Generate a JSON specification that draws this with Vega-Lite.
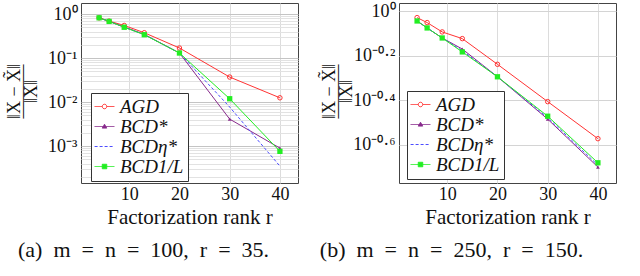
{
  "$schema": "https://vega.github.io/schema/vega-lite/v6.json",
  "padding": {"left": 4, "top": 1, "right": 0, "bottom": 0},
  "background": "white",
  "bounds": "flush",
  "spacing": 101,
  "config": {
    "view": {"stroke": "#444", "strokeWidth": 1},
    "axis": {"labelFont": "Liberation Serif", "labelFontSize": 18, "labelColor": "#111", "titleFont": "Liberation Serif", "titleFontWeight": "normal", "titleColor": "#111", "ticks": false, "domain": false, "labelOverlap": false, "labelBound": false},
    "title": {"font": "Liberation Serif", "fontSize": 22, "fontWeight": "normal", "color": "#111"},
    "legend": {"orient": "none", "title": null, "symbolSize": 324, "symbolStrokeWidth": 1, "labelFont": "Liberation Serif", "labelFontSize": 19, "labelFontStyle": "italic", "labelColor": "#111", "strokeColor": "#333", "fillColor": "white", "padding": 4, "rowPadding": 0, "labelOffset": 6, "symbolOpacity": 1}
  },
  "datasets": {
    "a": [
      {"r": 4, "series": "AGD", "err": 0.82}, {"r": 6, "series": "AGD", "err": 0.69}, {"r": 9, "series": "AGD", "err": 0.55}, {"r": 13, "series": "AGD", "err": 0.376}, {"r": 20, "series": "AGD", "err": 0.169}, {"r": 30, "series": "AGD", "err": 0.037}, {"r": 40, "series": "AGD", "err": 0.0125},
      {"r": 4, "series": "BCD*", "err": 0.82}, {"r": 6, "series": "BCD*", "err": 0.68}, {"r": 9, "series": "BCD*", "err": 0.51}, {"r": 13, "series": "BCD*", "err": 0.345}, {"r": 20, "series": "BCD*", "err": 0.13}, {"r": 30, "series": "BCD*", "err": 0.0041}, {"r": 40, "series": "BCD*", "err": 0.0009},
      {"r": 4, "series": "BCDη*", "err": 0.82}, {"r": 6, "series": "BCDη*", "err": 0.68}, {"r": 9, "series": "BCDη*", "err": 0.5}, {"r": 13, "series": "BCDη*", "err": 0.34}, {"r": 20, "series": "BCDη*", "err": 0.13}, {"r": 30, "series": "BCDη*", "err": 0.0077}, {"r": 40, "series": "BCDη*", "err": 0.00035},
      {"r": 4, "series": "BCD1/L", "err": 0.82}, {"r": 6, "series": "BCD1/L", "err": 0.68}, {"r": 9, "series": "BCD1/L", "err": 0.5}, {"r": 13, "series": "BCD1/L", "err": 0.339}, {"r": 20, "series": "BCD1/L", "err": 0.13}, {"r": 30, "series": "BCD1/L", "err": 0.0119}, {"r": 40, "series": "BCD1/L", "err": 0.00076}
    ],
    "b": [
      {"r": 4, "series": "AGD", "err": 0.936}, {"r": 6, "series": "AGD", "err": 0.889}, {"r": 9, "series": "AGD", "err": 0.807}, {"r": 13, "series": "AGD", "err": 0.753}, {"r": 20, "series": "AGD", "err": 0.577}, {"r": 30, "series": "AGD", "err": 0.392}, {"r": 40, "series": "AGD", "err": 0.267},
      {"r": 4, "series": "BCD*", "err": 0.904}, {"r": 6, "series": "BCD*", "err": 0.841}, {"r": 9, "series": "BCD*", "err": 0.758}, {"r": 13, "series": "BCD*", "err": 0.676}, {"r": 20, "series": "BCD*", "err": 0.507}, {"r": 30, "series": "BCD*", "err": 0.327}, {"r": 40, "series": "BCD*", "err": 0.199},
      {"r": 4, "series": "BCDη*", "err": 0.904}, {"r": 6, "series": "BCDη*", "err": 0.841}, {"r": 9, "series": "BCDη*", "err": 0.758}, {"r": 13, "series": "BCDη*", "err": 0.665}, {"r": 20, "series": "BCDη*", "err": 0.507}, {"r": 30, "series": "BCDη*", "err": 0.332}, {"r": 40, "series": "BCDη*", "err": 0.203},
      {"r": 4, "series": "BCD1/L", "err": 0.904}, {"r": 6, "series": "BCD1/L", "err": 0.841}, {"r": 9, "series": "BCD1/L", "err": 0.758}, {"r": 13, "series": "BCD1/L", "err": 0.656}, {"r": 20, "series": "BCD1/L", "err": 0.507}, {"r": 30, "series": "BCD1/L", "err": 0.337}, {"r": 40, "series": "BCD1/L", "err": 0.208}
    ]
  },
  "resolve": {"scale": {"x": "independent", "y": "independent", "stroke": "independent", "fill": "independent", "shape": "independent", "strokeDash": "independent"}, "legend": {"stroke": "independent", "fill": "independent", "shape": "independent", "strokeDash": "independent"}},
  "hconcat": [
    {
      "width": 217, "height": 180,
      "data": {"name": "a"},
      "title": {"text": "(a)\u2002m\u2002=\u2002n\u2002=\u2002100,\u2002r\u2002=\u200235.", "orient": "bottom", "anchor": "middle", "dx": -46, "offset": 13},
      "encoding": {
        "x": {"field": "r", "type": "quantitative", "scale": {"domain": [0.4, 43.6], "nice": false, "zero": false},
              "axis": {"values": [10, 20, 30, 40], "grid": true, "gridColor": "#dcdcdc", "labelPadding": 2, "title": "Factorization rank r", "titleFontSize": 21, "titlePadding": 3}},
        "y": {"field": "err", "type": "quantitative", "scale": {"type": "log", "domain": [0.000145, 1.78], "nice": false},
              "axis": {"values": [0.0002, 0.0003, 0.0004, 0.0005, 0.0006, 0.0007, 0.0008, 0.0009, 0.001, 0.002, 0.003, 0.004, 0.005, 0.006, 0.007, 0.008, 0.009, 0.01, 0.02, 0.03, 0.04, 0.05, 0.06, 0.07, 0.08, 0.09, 0.1, 0.2, 0.3, 0.4, 0.5, 0.6, 0.7, 0.8, 0.9, 1],
                       "labelExpr": "datum.value == 1 ? '10⁰' : datum.value == 0.1 ? '10⁻¹' : datum.value == 0.01 ? '10⁻²' : datum.value == 0.001 ? '10⁻³' : ''",
                       "grid": true,
                       "gridColor": {"condition": {"test": "datum.value == 1 || datum.value == 0.1 || datum.value == 0.01 || datum.value == 0.001", "value": "#c4c4c4"}, "value": "#e2e2e2"},
                       "labelPadding": 4, "title": ["‖X − X̃‖", "———", "‖X‖"], "titleFontSize": 18, "titleLineHeight": 8.5, "titleBaseline": "middle", "titleX": -67, "titleY": 88}}
      },
      "layer": [
        {"transform": [{"filter": "datum.series == 'AGD'"}], "mark": {"type": "line", "stroke": "#ff3333", "strokeWidth": 1, "clip": true}, "encoding": {}},
        {"transform": [{"filter": "datum.series == 'BCD*'"}], "mark": {"type": "line", "stroke": "#882a8c", "strokeWidth": 1, "clip": true}, "encoding": {}},
        {"transform": [{"filter": "datum.series == 'BCDη*'"}], "mark": {"type": "line", "stroke": "#4d4dff", "strokeWidth": 1, "strokeDash": [3, 2], "clip": true}, "encoding": {}},
        {"transform": [{"filter": "datum.series == 'BCD1/L'"}], "mark": {"type": "line", "stroke": "#22ee22", "strokeWidth": 1, "clip": true}, "encoding": {}},
        {"transform": [{"filter": "datum.series == 'AGD'"}], "mark": {"type": "point", "shape": "circle", "filled": false, "stroke": "#ff3333", "strokeWidth": 1, "size": 20, "opacity": 1}, "encoding": {}},
        {"transform": [{"filter": "datum.series == 'BCD*'"}], "mark": {"type": "point", "shape": "triangle-up", "filled": true, "fill": "#882a8c", "size": 14, "opacity": 1}, "encoding": {}},
        {"transform": [{"filter": "datum.series == 'BCD1/L'"}], "mark": {"type": "point", "shape": "square", "filled": true, "fill": "#22ee22", "size": 28, "opacity": 1}, "encoding": {}},
        {"transform": [{"filter": "false"}],
         "mark": {"type": "point", "opacity": 1, "strokeWidth": 1},
         "encoding": {
           "stroke": {"field": "series", "type": "nominal", "scale": {"domain": ["AGD", "BCD*", "BCDη*", "BCD1/L"], "range": ["#ff3333", "#882a8c", "#4d4dff", "#22ee22"]},
                      "legend": {"legendX": 10, "legendY": 90}},
           "fill": {"field": "series", "type": "nominal", "scale": {"domain": ["AGD", "BCD*", "BCDη*", "BCD1/L"], "range": ["white", "#882a8c", "transparent", "#22ee22"]},
                      "legend": {"legendX": 10, "legendY": 90}},
           "shape": {"field": "series", "type": "nominal", "scale": {"domain": ["AGD", "BCD*", "BCDη*", "BCD1/L"], "range": ["M-1.1,0L-0.25,0M0.25,0L1.1,0M0.25,0A0.25,0.25,0,1,1,-0.25,0A0.25,0.25,0,1,1,0.25,0Z", "M-1.1,0L1.1,0M0,-0.25L0.25,0.18L-0.25,0.18Z", "M-1.1,0L1.1,0", "M-1.1,0L1.1,0M-0.25,-0.25L0.25,-0.25L0.25,0.25L-0.25,0.25Z"]},
                      "legend": {"legendX": 10, "legendY": 90}},
           "strokeDash": {"field": "series", "type": "nominal", "scale": {"domain": ["AGD", "BCD*", "BCDη*", "BCD1/L"], "range": [[1, 0], [1, 0], [3, 2], [1, 0]]},
                      "legend": {"legendX": 10, "legendY": 90}}
         }}
      ]
    },
    {
      "width": 217, "height": 180,
      "data": {"name": "b"},
      "title": {"text": "(b)\u2002m\u2002=\u2002n\u2002=\u2002250,\u2002r\u2002=\u2002150.", "orient": "bottom", "anchor": "middle", "dx": -56, "offset": 13},
      "encoding": {
        "x": {"field": "r", "type": "quantitative", "scale": {"domain": [0.4, 43.6], "nice": false, "zero": false},
              "axis": {"values": [10, 20, 30, 40], "grid": true, "gridColor": "#dcdcdc", "labelPadding": 2, "title": "Factorization rank r", "titleFontSize": 21, "titlePadding": 3}},
        "y": {"field": "err", "type": "quantitative", "scale": {"type": "log", "domain": [0.1687, 1.089], "nice": false},
              "axis": {"values": [0.251189, 0.398107, 0.630957, 1],
                       "labelExpr": "datum.value > 0.9 ? '10⁰' : datum.value > 0.5 ? '10⁻⁰·²' : datum.value > 0.3 ? '10⁻⁰·⁴' : '10⁻⁰·⁶'",
                       "grid": true, "gridColor": "#d4d4d4",
                       "labelPadding": 4, "title": ["‖X − X̃‖", "———", "‖X‖"], "titleFontSize": 18, "titleLineHeight": 8.5, "titleBaseline": "middle", "titleX": -70, "titleY": 88}}
      },
      "layer": [
        {"transform": [{"filter": "datum.series == 'AGD'"}], "mark": {"type": "line", "stroke": "#ff3333", "strokeWidth": 1, "clip": true}, "encoding": {}},
        {"transform": [{"filter": "datum.series == 'BCD*'"}], "mark": {"type": "line", "stroke": "#882a8c", "strokeWidth": 1, "clip": true}, "encoding": {}},
        {"transform": [{"filter": "datum.series == 'BCDη*'"}], "mark": {"type": "line", "stroke": "#4d4dff", "strokeWidth": 1, "strokeDash": [3, 2], "clip": true}, "encoding": {}},
        {"transform": [{"filter": "datum.series == 'BCD1/L'"}], "mark": {"type": "line", "stroke": "#22ee22", "strokeWidth": 1, "clip": true}, "encoding": {}},
        {"transform": [{"filter": "datum.series == 'AGD'"}], "mark": {"type": "point", "shape": "circle", "filled": false, "stroke": "#ff3333", "strokeWidth": 1, "size": 20, "opacity": 1}, "encoding": {}},
        {"transform": [{"filter": "datum.series == 'BCD*'"}], "mark": {"type": "point", "shape": "triangle-up", "filled": true, "fill": "#882a8c", "size": 14, "opacity": 1}, "encoding": {}},
        {"transform": [{"filter": "datum.series == 'BCD1/L'"}], "mark": {"type": "point", "shape": "square", "filled": true, "fill": "#22ee22", "size": 28, "opacity": 1}, "encoding": {}},
        {"transform": [{"filter": "false"}],
         "mark": {"type": "point", "opacity": 1, "strokeWidth": 1},
         "encoding": {
           "stroke": {"field": "series", "type": "nominal", "scale": {"domain": ["AGD", "BCD*", "BCDη*", "BCD1/L"], "range": ["#ff3333", "#882a8c", "#4d4dff", "#22ee22"]},
                      "legend": {"legendX": 8, "legendY": 88}},
           "fill": {"field": "series", "type": "nominal", "scale": {"domain": ["AGD", "BCD*", "BCDη*", "BCD1/L"], "range": ["white", "#882a8c", "transparent", "#22ee22"]},
                      "legend": {"legendX": 8, "legendY": 88}},
           "shape": {"field": "series", "type": "nominal", "scale": {"domain": ["AGD", "BCD*", "BCDη*", "BCD1/L"], "range": ["M-1.1,0L-0.25,0M0.25,0L1.1,0M0.25,0A0.25,0.25,0,1,1,-0.25,0A0.25,0.25,0,1,1,0.25,0Z", "M-1.1,0L1.1,0M0,-0.25L0.25,0.18L-0.25,0.18Z", "M-1.1,0L1.1,0", "M-1.1,0L1.1,0M-0.25,-0.25L0.25,-0.25L0.25,0.25L-0.25,0.25Z"]},
                      "legend": {"legendX": 8, "legendY": 88}},
           "strokeDash": {"field": "series", "type": "nominal", "scale": {"domain": ["AGD", "BCD*", "BCDη*", "BCD1/L"], "range": [[1, 0], [1, 0], [3, 2], [1, 0]]},
                      "legend": {"legendX": 8, "legendY": 88}}
         }}
      ]
    }
  ]
}
